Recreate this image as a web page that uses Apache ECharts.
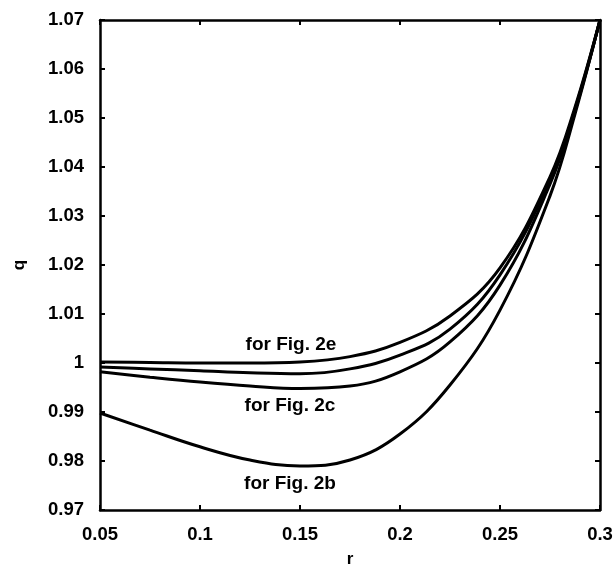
<!DOCTYPE html>
<html>
<head>
<meta charset="utf-8">
<script src="https://cdn.jsdelivr.net/npm/echarts@6/dist/echarts.min.js"></script>
<style>
  html, body { margin: 0; padding: 0; background: #fff; }
  #main { width: 613px; height: 570px; }
</style>
</head>
<body>
<div id="main"></div>
<script>
// r values (x axis)
var rValues = [0.05, 0.075, 0.1, 0.125, 0.15, 0.175, 0.2, 0.225, 0.25, 0.275, 0.2875, 0.3];

// q values
var qFig2e = [1.0002, 1.0001, 1.0000, 1.0000, 1.0002, 1.0013, 1.0042, 1.0096, 1.0194, 1.0380, 1.0522, 1.07];
var qMiddle = [0.9992, 0.9988, 0.9984, 0.9980, 0.9978, 0.9988, 1.0016, 1.0069, 1.0180, 1.0374, 1.0518, 1.07];
var qFig2c = [0.9982, 0.9971, 0.9961, 0.9953, 0.9948, 0.9953, 0.9982, 1.0043, 1.0159, 1.0365, 1.0514, 1.07];
var qFig2b = [0.9898, 0.9863, 0.9829, 0.9802, 0.9790, 0.9802, 0.9855, 0.9955, 1.0108, 1.0341, 1.0508, 1.07];

// curve annotations
var noteTexts = ['for Fig. 2e', 'for Fig. 2c', 'for Fig. 2b'];
var noteR = [0.1455, 0.145, 0.145];
var noteQ = [1.0037, 0.9912, 0.9753];

var fontFam = '"Liberation Sans", Arial, sans-serif';

function pairs(xs, ys) {
    var out = [];
    for (var i = 0; i < xs.length; i++) {
        out.push([xs[i], ys[i]]);
    }
    return out;
}

function lineSeries(ys) {
    return {
        type: 'line',
        data: pairs(rValues, ys),
        smooth: 0.4,
        symbol: 'none',
        lineStyle: { color: '#000', width: 3 },
        silent: true
    };
}

var axisLine = { show: true, lineStyle: { color: '#000', width: 2.5 } };
var axisTick = { show: true, inside: true, length: 5, lineStyle: { color: '#000', width: 2 } };
var labelStyle = { color: '#000', fontFamily: fontFam, fontWeight: 'bold', fontSize: 18.5 };
var nameStyle = { color: '#000', fontFamily: fontFam, fontWeight: 'bold', fontSize: 17 };

var chart = echarts.init(document.getElementById('main'));

var notesData = [];
for (var i = 0; i < noteTexts.length; i++) {
    notesData.push({ value: [noteR[i], noteQ[i]], name: noteTexts[i] });
}

var option = {
    animation: false,
    backgroundColor: '#fff',
    grid: { left: 100, right: 13, top: 20, bottom: 60, outerBoundsMode: 'none', containLabel: false },
    xAxis: [{
        type: 'value',
        min: 0.05,
        max: 0.3,
        interval: 0.05,
        name: 'r',
        nameLocation: 'middle',
        nameGap: 41,
        nameMoveOverlap: false,
        nameTextStyle: nameStyle,
        axisLine: axisLine,
        axisTick: axisTick,
        axisLabel: Object.assign({ margin: 15, formatter: function(v) { return +v.toFixed(2); } }, labelStyle),
        splitLine: { show: false }
    }, {
        type: 'value',
        position: 'top',
        min: 0.05,
        max: 0.3,
        interval: 0.05,
        axisLine: axisLine,
        axisTick: axisTick,
        axisLabel: { show: false },
        splitLine: { show: false }
    }],
    yAxis: [{
        type: 'value',
        min: 0.97,
        max: 1.07,
        interval: 0.01,
        name: 'q',
        nameLocation: 'middle',
        nameGap: 72,
        nameMoveOverlap: false,
        nameTextStyle: nameStyle,
        axisLine: axisLine,
        axisTick: axisTick,
        axisLabel: Object.assign({ margin: 16, formatter: function(v) { return +v.toFixed(2); } }, labelStyle),
        splitLine: { show: false }
    }, {
        type: 'value',
        position: 'right',
        min: 0.97,
        max: 1.07,
        interval: 0.01,
        axisLine: axisLine,
        axisTick: axisTick,
        axisLabel: { show: false },
        splitLine: { show: false }
    }],
    series: [
        lineSeries(qFig2e),
        lineSeries(qMiddle),
        lineSeries(qFig2c),
        lineSeries(qFig2b),
        {
            type: 'scatter',
            data: notesData,
            symbolSize: 1,
            silent: true,
            itemStyle: { opacity: 0 },
            label: {
                show: true,
                position: 'inside',
                formatter: function(p) { return p.name; },
                color: '#000',
                opacity: 1,
                textBorderWidth: 0,
                fontFamily: fontFam,
                fontWeight: 'bold',
                fontSize: 19
            }
        }
    ]
};

chart.setOption(option);
</script>
</body>
</html>
